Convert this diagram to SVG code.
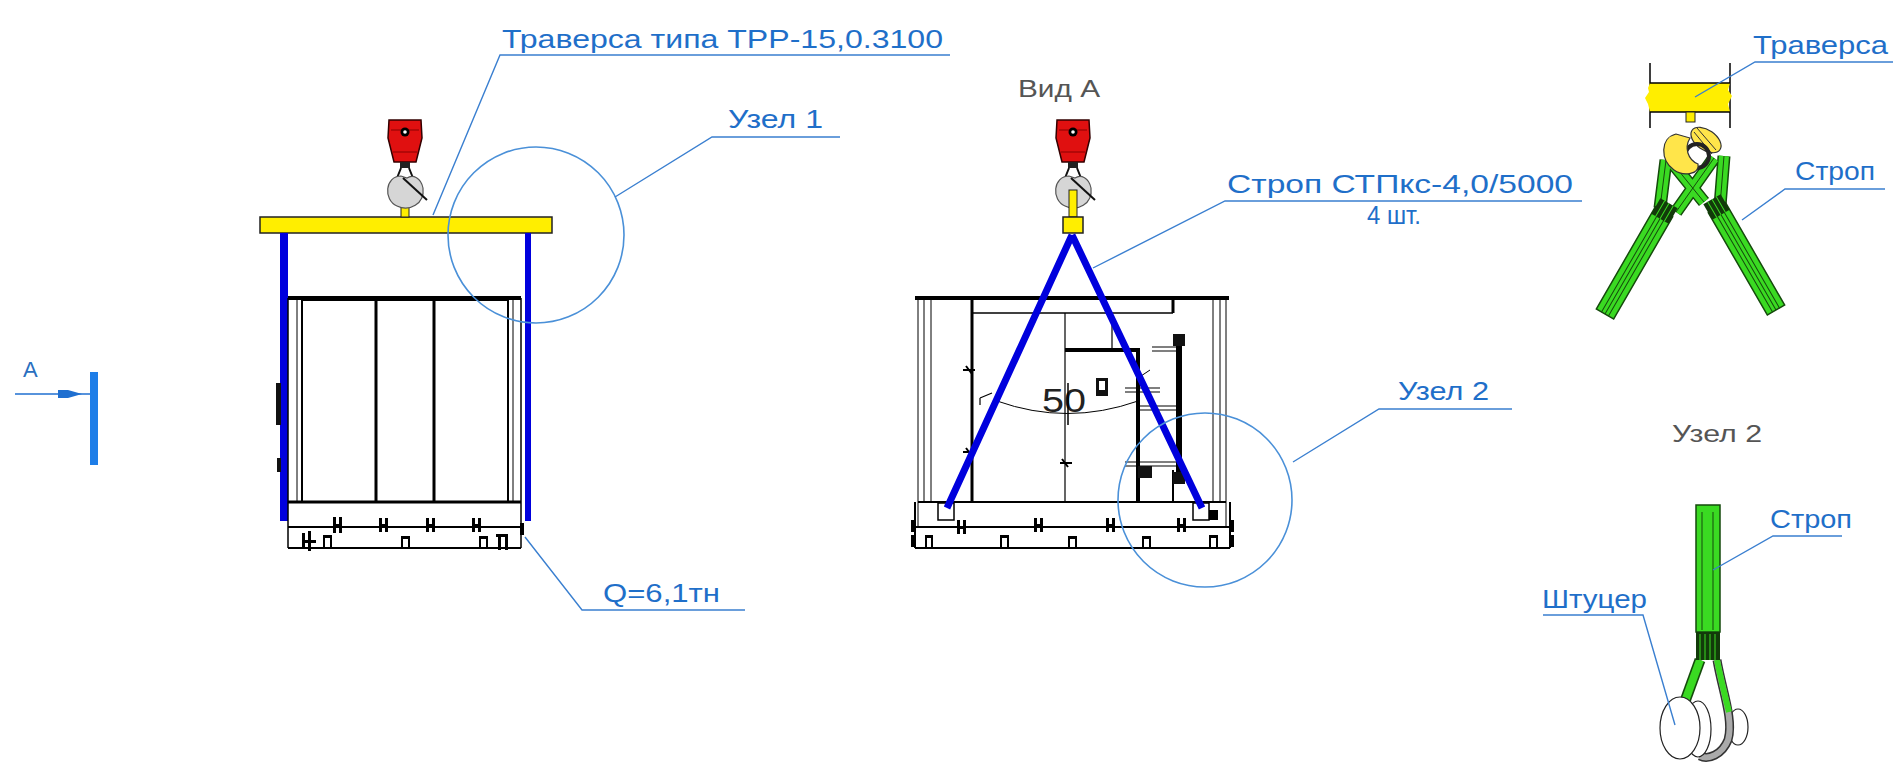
<svg xmlns="http://www.w3.org/2000/svg" width="1897" height="764" viewBox="0 0 1897 764">
  <style>
    .lbl { font-family: "Liberation Sans", Arial, sans-serif; font-size: 26px; fill: #1f6fc9; }
    .ttl { font-family: "Liberation Sans", Arial, sans-serif; font-size: 24px; fill: #555; }
    .ldr { stroke: #3a7fd0; stroke-width: 1.4; fill: none; }
    .zone { stroke: #4a90d8; stroke-width: 1.6; fill: none; }
    .blk { stroke: #000; fill: none; }
    .sling { stroke: #0000dd; stroke-width: 7; stroke-linecap: butt; }
    .grn { fill: #3ada22; stroke: #154a0c; stroke-width: 1.5; }
    .gl { stroke: #154a0c; stroke-width: 1; fill: none; }
  </style>
  <defs>
    <!-- crane hook block: red body, grey hook with latch -->
    <g id="hook">
      <path d="M-16,0 L16,0 L17,18 L11,42 L-11,42 L-17,18 Z" fill="#e01010" stroke="#300" stroke-width="1.5"/>
      <path d="M-14,10 L14,10 M-12,32 L12,32" stroke="#800" stroke-width="1"/>
      <circle cx="0" cy="12" r="4.5" fill="#000"/>
      <circle cx="0" cy="12" r="1.8" fill="#fff"/>
      <rect x="-5" y="42" width="10" height="6" fill="#222"/>
      <path d="M-4,48 L-8,58 M4,48 L8,58" stroke="#111" stroke-width="2"/>
      <path d="M-4,56 C-20,56 -22,80 -8,86 C4,92 20,84 18,68 C16,58 8,54 2,58 Z" fill="#d6d6d6" stroke="#555" stroke-width="1.2"/>
      <path d="M-2,58 L22,80" stroke="#111" stroke-width="2"/>
    </g>
    <!-- webbing sling strap, pointing up from its origin -->
    <g id="strap">
      <rect x="-10" y="-118" width="20" height="118" class="grn"/>
      <path d="M-4,-118 V0 M0,-118 V0 M4,-118 V0" class="gl"/>
      <rect x="-10" y="-128" width="20" height="18" fill="#123a0a"/>
      <path d="M-5,-128 V-110 M0,-128 V-110 M5,-128 V-110" stroke="#3ada22" stroke-width="1"/>
    </g>
  </defs>

  <!-- ===== Side view ===== -->
  <g id="side-view">
    <!-- lifting beam -->
    <rect x="260" y="217" width="292" height="16" fill="#ffee00" stroke="#222" stroke-width="1.5"/>
    <rect x="401" y="190" width="8" height="27" fill="#ffee00" stroke="#222" stroke-width="1"/>
    <use href="#hook" x="405" y="120"/>
    <!-- vertical slings -->
    <rect x="280" y="233" width="8" height="288" fill="#0000dd"/>
    <rect x="525" y="233" width="6" height="288" fill="#0000dd"/>
    <!-- unit body -->
    <rect x="288" y="296" width="233" height="4" fill="#000"/>
    <path d="M288,298 V548 M521,298 V548" class="blk" stroke-width="1.5"/>
    <path d="M297,300 V502 M513,300 V502" class="blk" stroke-width="1"/>
    <rect x="302" y="300" width="206" height="202" class="blk" stroke-width="2"/>
    <path d="M376,300 V502 M434,300 V502" class="blk" stroke-width="3"/>
    <path d="M288,502 H521" class="blk" stroke-width="3"/>
    <path d="M288,527 H521 M288,548 H521" class="blk" stroke-width="2"/>
    <rect x="276" y="383" width="5" height="42" fill="#111"/>
    <rect x="277" y="458" width="4" height="14" fill="#111"/>
    <!-- base bolts and feet -->
    <g fill="#000">
      <rect x="333" y="517" width="3" height="16"/><rect x="339" y="517" width="3" height="16"/><rect x="333" y="524" width="9" height="3"/>
      <rect x="379" y="518" width="3" height="14"/><rect x="385" y="518" width="3" height="14"/><rect x="379" y="524" width="9" height="3"/>
      <rect x="426" y="518" width="3" height="14"/><rect x="432" y="518" width="3" height="14"/><rect x="426" y="524" width="9" height="3"/>
      <rect x="472" y="518" width="3" height="14"/><rect x="478" y="518" width="3" height="14"/><rect x="472" y="524" width="9" height="3"/>
      <rect x="302" y="533" width="3" height="14"/><rect x="308" y="531" width="3" height="20"/><rect x="302" y="540" width="14" height="3"/>
      <rect x="323" y="535" width="9" height="3"/><rect x="323" y="535" width="2" height="12"/><rect x="330" y="535" width="2" height="12"/>
      <rect x="401" y="536" width="9" height="3"/><rect x="401" y="536" width="2" height="11"/><rect x="408" y="536" width="2" height="11"/>
      <rect x="479" y="536" width="9" height="3"/><rect x="479" y="536" width="2" height="11"/><rect x="486" y="536" width="2" height="11"/>
      <rect x="496" y="534" width="12" height="3"/><rect x="498" y="534" width="3" height="16"/><rect x="505" y="534" width="3" height="16"/>
      <rect x="520" y="523" width="4" height="12"/>
    </g>
  </g>

  <!-- ===== View A ===== -->
  <g id="view-a">
    <text class="ttl" x="1018" y="97" textLength="82" lengthAdjust="spacingAndGlyphs">Вид А</text>
    <use href="#hook" x="1073" y="120"/>
    <rect x="1069" y="190" width="8" height="27" fill="#ffee00" stroke="#222" stroke-width="1"/>
    <rect x="1063" y="217" width="20" height="16" fill="#ffee00" stroke="#222" stroke-width="1.5"/>
    <!-- unit body -->
    <rect x="915" y="296" width="314" height="4" fill="#000"/>
    <path d="M918,300 V527 M924,300 V502 M931,300 V502 M1213,300 V502 M1220,300 V502 M1226,300 V527" class="blk" stroke-width="1"/>
    <path d="M972,300 V502" class="blk" stroke-width="3"/>
    <path d="M1173,300 V313" class="blk" stroke-width="3"/>
    <path d="M972,313 H1173" class="blk" stroke-width="1.5"/>
    <path d="M1065,313 V502 M1112,313 V350" class="blk" stroke-width="1.2"/>
    <path d="M1065,350 H1140" class="blk" stroke-width="4"/>
    <path d="M1138,350 V502" class="blk" stroke-width="4"/>
    <path d="M918,502 H1226" class="blk" stroke-width="2"/>
    <path d="M1173,470 V502" class="blk" stroke-width="2"/>
    <!-- right-hand rails -->
    <rect x="1176" y="337" width="6" height="145" fill="#000"/>
    <rect x="1173" y="334" width="12" height="12" fill="#111"/>
    <rect x="1173" y="472" width="12" height="12" fill="#111"/>
    <path d="M1152,347 H1176 M1152,351 H1176 M1125,388 H1160 M1125,392 H1160 M1140,406 H1176 M1140,410 H1176 M1125,462 H1176 M1125,466 H1176" class="blk" stroke-width="1.2"/>
    <rect x="1138" y="466" width="14" height="12" fill="#111"/>
    <!-- latches and markings -->
    <path d="M963,370 H975 M966,366 L972,374 M963,452 H975 M966,448 L972,456 M1060,463 H1072 M1062,459 L1068,467" class="blk" stroke-width="2"/>
    <path d="M980,398 V405 M980,398 L992,393" class="blk" stroke-width="1.2"/>
    <path d="M997,401 Q1067,426 1138,401" class="blk" stroke-width="1"/>
    <text x="1042" y="412" font-family="Liberation Sans, Arial, sans-serif" font-size="34" fill="#222" textLength="44" lengthAdjust="spacingAndGlyphs">50</text>
    <path d="M1068,383 V425" class="blk" stroke-width="1.5"/>
    <rect x="1096" y="378" width="12" height="18" fill="#111"/>
    <rect x="1099" y="381" width="6" height="9" fill="#fff"/>
    <path d="M1138,378 L1150,370" class="blk" stroke-width="1"/>
    <!-- base -->
    <path d="M915,527 H1230 M915,548 H1230 M915,502 V548 M1230,502 V548" class="blk" stroke-width="2"/>
    <g fill="#000">
      <rect x="957" y="520" width="3" height="14"/><rect x="963" y="520" width="3" height="14"/><rect x="957" y="526" width="9" height="3"/>
      <rect x="1034" y="518" width="3" height="14"/><rect x="1040" y="518" width="3" height="14"/><rect x="1034" y="524" width="9" height="3"/>
      <rect x="1106" y="518" width="3" height="14"/><rect x="1112" y="518" width="3" height="14"/><rect x="1106" y="524" width="9" height="3"/>
      <rect x="1177" y="518" width="3" height="14"/><rect x="1183" y="518" width="3" height="14"/><rect x="1177" y="524" width="9" height="3"/>
      <rect x="925" y="535" width="8" height="3"/><rect x="925" y="535" width="2" height="12"/><rect x="931" y="535" width="2" height="12"/>
      <rect x="1000" y="535" width="9" height="3"/><rect x="1000" y="535" width="2" height="12"/><rect x="1007" y="535" width="2" height="12"/>
      <rect x="1068" y="536" width="9" height="3"/><rect x="1068" y="536" width="2" height="11"/><rect x="1075" y="536" width="2" height="11"/>
      <rect x="1142" y="536" width="9" height="3"/><rect x="1142" y="536" width="2" height="11"/><rect x="1149" y="536" width="2" height="11"/>
      <rect x="1209" y="535" width="9" height="3"/><rect x="1209" y="535" width="2" height="12"/><rect x="1216" y="535" width="2" height="12"/>
      <rect x="911" y="520" width="4" height="12"/><rect x="911" y="535" width="4" height="12"/>
      <rect x="1230" y="520" width="4" height="12"/><rect x="1230" y="535" width="4" height="12"/>
      <rect x="1208" y="510" width="10" height="10"/>
    </g>
    <!-- lifting eyes -->
    <rect x="938" y="503" width="16" height="17" fill="#fff" stroke="#000" stroke-width="1.5"/>
    <rect x="1193" y="503" width="16" height="17" fill="#fff" stroke="#000" stroke-width="1.5"/>
    <!-- slings -->
    <path d="M1072,235 L947,508 M1072,235 L1202,508" class="sling"/>
  </g>

  <!-- ===== Detail 1 ===== -->
  <g id="detail-1">
    <path d="M1650,63 V128 M1730,63 V128" class="blk" stroke-width="1.5"/>
    <path d="M1650,83 H1730 L1728,90 L1732,96 L1728,104 L1730,112 H1650 L1648,104 L1645,98 L1649,92 L1648,88 Z" fill="#ffee00"/>
    <path d="M1650,83 H1730 M1650,112 H1730" class="blk" stroke-width="1.5"/>
    <rect x="1686" y="112" width="9" height="10" fill="#ffee00" stroke="#222" stroke-width="1"/>
    <!-- sling loops -->
    <path d="M1660,208 L1666,160 M1676,212 L1714,158 M1720,206 L1724,156 M1704,202 L1670,160" stroke="#154a0c" stroke-width="13" fill="none"/>
    <path d="M1660,208 L1666,160 M1676,212 L1714,158 M1720,206 L1724,156 M1704,202 L1670,160" stroke="#3ada22" stroke-width="10" fill="none"/>
    <path d="M1660,208 L1666,160 M1676,212 L1714,158 M1720,206 L1724,156 M1704,202 L1670,160" stroke="#154a0c" stroke-width="1" fill="none"/>
    <!-- hook and latch -->
    <ellipse cx="1706" cy="140" rx="17" ry="10" transform="rotate(35 1706 140)" fill="#ffe54a" stroke="#333" stroke-width="1.2"/>
    <path d="M1697,128 L1716,150 M1694,132 L1712,154" stroke="#333" stroke-width="1"/>
    <circle cx="1697" cy="156" r="12" fill="none" stroke="#222" stroke-width="4"/>
    <path d="M1676,134 C1660,138 1660,160 1674,170 C1684,177 1700,174 1698,164 C1688,160 1684,148 1690,138 Z" fill="#ffe54a" stroke="#333" stroke-width="1.2"/>
    <!-- straps -->
    <use href="#strap" transform="translate(1605,314) rotate(30)"/>
    <use href="#strap" transform="translate(1776,310) rotate(-30)"/>
  </g>

  <!-- ===== Detail 2 ===== -->
  <g id="detail-2">
    <text class="ttl" x="1672" y="442" textLength="90" lengthAdjust="spacingAndGlyphs">Узел 2</text>
    <ellipse cx="1738" cy="727" rx="10" ry="18" fill="#fff" stroke="#222" stroke-width="1.2"/>
    <path d="M1700,660 L1684,704" stroke="#154a0c" stroke-width="11"/>
    <path d="M1700,660 L1684,704" stroke="#3ada22" stroke-width="8"/>
    <path d="M1717,660 C1722,690 1734,720 1728,740 C1722,755 1708,760 1700,756" stroke="#333" stroke-width="9" fill="none"/>
    <path d="M1717,660 C1722,690 1734,720 1728,740 C1722,755 1708,760 1700,756" stroke="#aaa" stroke-width="6" fill="none"/>
    <path d="M1717,660 C1721,680 1726,700 1729,712" stroke="#3ada22" stroke-width="6" fill="none"/>
    <rect x="1696" y="505" width="24" height="127" class="grn"/>
    <path d="M1702,512 V630 M1713,512 V630" class="gl"/>
    <rect x="1696" y="632" width="24" height="28" fill="#123a0a"/>
    <path d="M1700,634 V660 M1705,634 V660 M1710,634 V660 M1715,634 V660" stroke="#3ada22" stroke-width="1"/>
    <ellipse cx="1698" cy="729" rx="13" ry="28" fill="#fff" stroke="#222" stroke-width="1.2"/>
    <ellipse cx="1680" cy="728" rx="20" ry="31" fill="#fff" stroke="#222" stroke-width="1.2"/>
  </g>

  <!-- ===== Section mark A ===== -->
  <g id="mark-a">
    <text x="23" y="377" font-family="Liberation Sans, Arial, sans-serif" font-size="22" fill="#2a6fc0">A</text>
    <path d="M15,394 H90" stroke="#1f6fd0" stroke-width="1.5"/>
    <path d="M58,390 H68 L82,394 L68,398 H58 Z" fill="#1f6fd0"/>
    <rect x="90" y="372" width="8" height="93" fill="#1e7ee8"/>
  </g>

  <!-- zone circles -->
  <circle cx="536" cy="235" r="88" class="zone"/>
  <circle cx="1205" cy="500" r="87" class="zone"/>

  <!-- ===== Leaders and labels ===== -->
  <g id="leaders">
    <path d="M433,215 L500,55 H950" class="ldr"/>
    <path d="M615,197 L712,137 H840" class="ldr"/>
    <path d="M525,537 L582,610 H745" class="ldr"/>
    <path d="M1093,268 L1225,201 H1582" class="ldr"/>
    <path d="M1293,462 L1379,409 H1512" class="ldr"/>
    <path d="M1695,97 L1755,62 H1893" class="ldr"/>
    <path d="M1742,220 L1785,189 H1885" class="ldr"/>
    <path d="M1713,570 L1773,536 H1842" class="ldr"/>
    <path d="M1675,725 L1643,615 H1543" class="ldr"/>
  </g>
  <g id="labels">
    <text class="lbl" x="502" y="48" font-size="28" textLength="441" lengthAdjust="spacingAndGlyphs">Траверса типа ТРР-15,0.3100</text>
    <text class="lbl" x="728" y="128" textLength="95" lengthAdjust="spacingAndGlyphs">Узел 1</text>
    <text class="lbl" x="603" y="602" textLength="117" lengthAdjust="spacingAndGlyphs">Q=6,1тн</text>
    <text class="lbl" x="1227" y="193" textLength="346" lengthAdjust="spacingAndGlyphs">Строп СТПкс-4,0/5000</text>
    <text class="lbl" x="1367" y="224" textLength="54" lengthAdjust="spacingAndGlyphs">4 шт.</text>
    <text class="lbl" x="1398" y="400" textLength="91" lengthAdjust="spacingAndGlyphs">Узел 2</text>
    <text class="lbl" x="1753" y="54" textLength="135" lengthAdjust="spacingAndGlyphs">Траверса</text>
    <text class="lbl" x="1795" y="180" textLength="80" lengthAdjust="spacingAndGlyphs">Строп</text>
    <text class="lbl" x="1770" y="528" textLength="82" lengthAdjust="spacingAndGlyphs">Строп</text>
    <text class="lbl" x="1542" y="608" textLength="105" lengthAdjust="spacingAndGlyphs">Штуцер</text>
  </g>
</svg>
